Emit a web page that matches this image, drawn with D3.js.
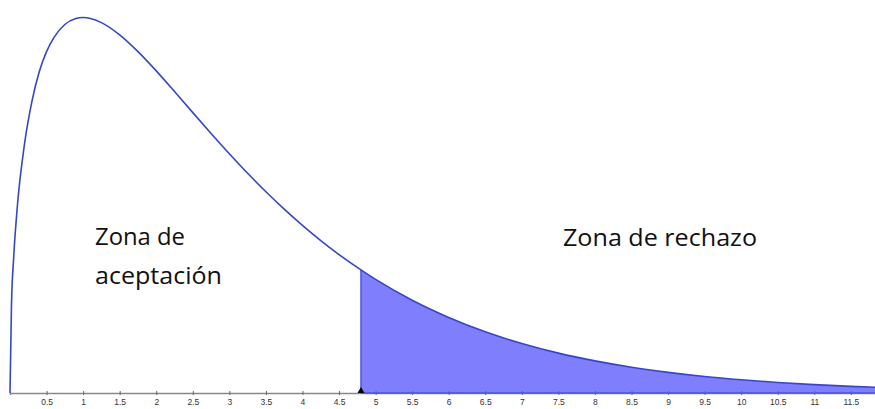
<!DOCTYPE html>
<html>
<head>
<meta charset="utf-8">
<script src="https://cdn.jsdelivr.net/npm/d3@7"></script>
<style>
  body { margin: 0; background: #fff; }
  svg { display: block; }
  .tick text { font-family: "Liberation Sans", Arial, sans-serif; font-size: 8.5px; fill: #333; }
  .zona { font-family: "Open Sans", sans-serif; font-size: 23px; fill: #111; }
</style>
</head>
<body>
<svg id="chart" width="875" height="409"></svg>
<script>
// valores (densidad)
var xs = [0, 0.02, 0.05, 0.1, 0.2, 0.3, 0.4, 0.5, 0.6, 0.75, 0.9, 1, 1.1, 1.25, 1.5, 1.75, 2,
  2.25, 2.5, 2.75, 3, 3.25, 3.5, 3.75, 4, 4.25, 4.5, 4.8, 5, 5.5, 6, 6.5, 7, 7.5, 8, 8.5,
  9, 9.5, 10, 10.5, 11, 11.5, 12];
var ys = [0, 0.056, 0.087, 0.120, 0.161, 0.188, 0.207, 0.220, 0.229, 0.2375, 0.2413, 0.242,
  0.2414, 0.2387, 0.2308, 0.220, 0.2076, 0.1943, 0.1807, 0.1673, 0.1542, 0.1416, 0.1297,
  0.1185, 0.108, 0.0982, 0.0892, 0.0793, 0.0732, 0.0598, 0.0487, 0.0394, 0.0319, 0.0257,
  0.0207, 0.0166, 0.0133, 0.0106, 0.0085, 0.0068, 0.0054, 0.0043, 0.0034];
var tickValues = [0.5, 1, 1.5, 2, 2.5, 3, 3.5, 4, 4.5, 5, 5.5, 6, 6.5, 7, 7.5, 8, 8.5, 9,
  9.5, 10, 10.5, 11, 11.5];
var critico = 4.8;
var textoAceptacion = ["Zona de", "aceptación"];
var textoRechazo = ["Zona de rechazo"];

var svg = d3.select('#chart');
var width = 875, height = 409;
var baseY = 393;

var x = d3.scaleLinear().domain([0, 11.83]).range([10, 875]);
var y = d3.scaleLinear().domain([0, 0.242]).range([baseY, 17.5]);

var data = xs.map(function(d, i) { return { x: d, y: ys[i] }; });

// area de rechazo
var tail = data.filter(function(d) { return d.x >= critico; });
var area = d3.area()
  .x(function(d) { return x(d.x); })
  .y0(baseY)
  .y1(function(d) { return y(d.y); })
  .curve(d3.curveMonotoneX);

svg.append('path')
  .datum(tail)
  .attr('d', area)
  .attr('fill', '#7f7ffd')
  .attr('stroke', 'none');

// eje
var axis = d3.axisBottom(x)
  .tickValues(tickValues)
  .tickSize(2)
  .tickPadding(4)
  .tickFormat(function(d) { return d; });

var g = svg.append('g')
  .attr('transform', 'translate(0,' + baseY + ')')
  .call(axis);
g.select('.domain').attr('stroke', '#888').attr('stroke-width', 1.5);
g.selectAll('.tick line').attr('stroke', '#666').attr('y1', -2);

// borde del area
svg.append('line')
  .attr('x1', x(critico)).attr('x2', x(critico))
  .attr('y1', baseY).attr('y2', y(ys[xs.indexOf(critico)]))
  .attr('stroke', '#4a55e0').attr('stroke-width', 1.5);
svg.append('line')
  .attr('x1', x(critico)).attr('x2', width)
  .attr('y1', baseY).attr('y2', baseY)
  .attr('stroke', '#4a55e0').attr('stroke-width', 1.5);

// curva
var line = d3.line()
  .x(function(d) { return x(d.x); })
  .y(function(d) { return y(d.y); })
  .curve(d3.curveMonotoneX);

svg.append('path')
  .datum(data)
  .attr('d', line)
  .attr('fill', 'none')
  .attr('stroke', '#3646c8')
  .attr('stroke-width', 1.6);

// marcador del valor critico
var cx = x(critico);
svg.append('path')
  .attr('d', 'M' + (cx - 3.5) + ',' + baseY + 'L' + cx + ',' + (baseY - 6) + 'L' + (cx + 3.5) + ',' + baseY + 'Z')
  .attr('fill', '#000');

// textos
var anchos = { "Zona de": 90, "aceptación": 127, "Zona de rechazo": 194 };

textoAceptacion.forEach(function(s, i) {
  svg.append('text').attr('class', 'zona')
    .attr('x', 95).attr('y', 245 + i * 39)
    .attr('textLength', anchos[s]).attr('lengthAdjust', 'spacingAndGlyphs')
    .text(s);
});
textoRechazo.forEach(function(s, i) {
  svg.append('text').attr('class', 'zona')
    .attr('x', 563).attr('y', 246 + i * 39)
    .attr('textLength', anchos[s]).attr('lengthAdjust', 'spacingAndGlyphs')
    .text(s);
});
</script>
</body>
</html>
